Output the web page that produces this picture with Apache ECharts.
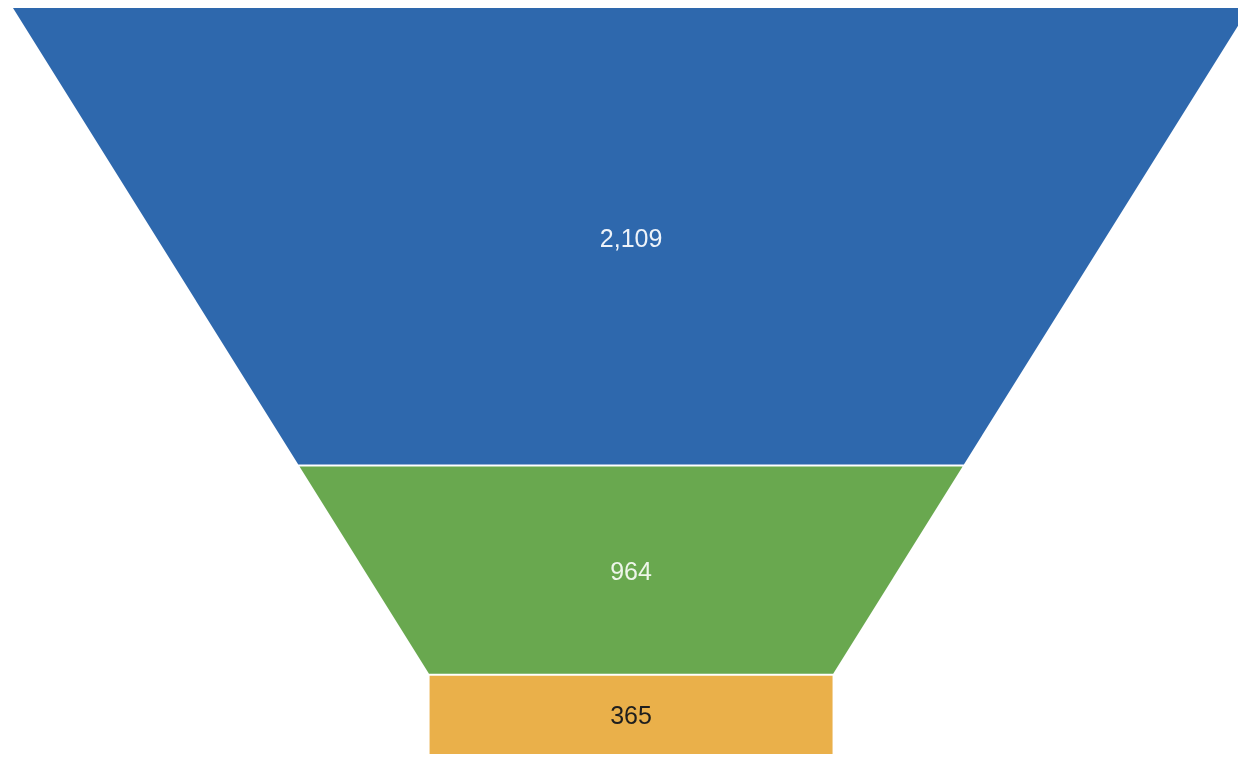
<!DOCTYPE html>
<html>
<head>
<meta charset="utf-8">
<script src="https://cdn.jsdelivr.net/npm/echarts@6/dist/echarts.min.js"></script>
<style>
  html, body { margin: 0; padding: 0; background: #ffffff; }
  #chart { width: 1238px; height: 757px; }
</style>
</head>
<body>
<div id="chart"></div>
<script>
// Data
const categories = ['Stage 1', 'Stage 2', 'Stage 3'];
const values = [2109, 964, 365];
const colors = ['#2e68ad', '#69a84f', '#eab04a'];
const labelColors = ['#eef3f9', '#eef6ea', '#1e1e1e'];

const total = values.reduce((a, b) => a + b, 0);
const neckStart = total - values[values.length - 1];
const bottomRatio = 0.326;
function halfWidth(v) {
  if (v >= neckStart) return bottomRatio;
  return 1 - (1 - bottomRatio) * v / neckStart;
}
const cum = [];
values.reduce((acc, v, i) => { cum[i] = acc; return acc + v; }, 0);

const chart = echarts.init(document.getElementById('chart'));
chart.setOption({
  backgroundColor: '#ffffff',
  animation: false,
  grid: { left: 13, right: 0, top: 8, bottom: 3 },
  xAxis: { type: 'value', min: -1, max: 0.982, show: false },
  yAxis: { type: 'value', inverse: true, min: 0, max: total, show: false },
  series: [{
    type: 'custom',
    clip: false,
    data: values.map((v, i) => [i, v]),
    renderItem: function (params, api) {
      const i = params.dataIndex;
      const last = i === values.length - 1;
      const v0 = cum[i];
      const v1 = v0 + values[i];
      const r0 = last ? bottomRatio : halfWidth(v0);
      const r1 = last ? bottomRatio : halfWidth(v1);
      const p1 = api.coord([-r0, v0]);
      const p2 = api.coord([r0, v0]);
      const p3 = api.coord([r1, v1]);
      const p4 = api.coord([-r1, v1]);
      const dt = i === 0 ? 0 : 1;
      const db = last ? 0 : 1;
      function lerp(a, b, t) { return a + (b - a) * t; }
      const h = p4[1] - p1[1];
      const t0 = dt / h, t1 = 1 - db / h;
      const pts = [
        [lerp(p1[0], p4[0], t0), p1[1] + dt],
        [lerp(p2[0], p3[0], t0), p2[1] + dt],
        [lerp(p2[0], p3[0], t1), p3[1] - db],
        [lerp(p1[0], p4[0], t1), p4[1] - db]
      ];
      const cx = (p1[0] + p2[0]) / 2;
      const cy = (p1[1] + p4[1]) / 2;
      return {
        type: 'group',
        children: [
          { type: 'polygon', shape: { points: pts }, style: { fill: colors[i] } },
          {
            type: 'text',
            style: {
              text: values[i].toLocaleString('en-US'),
              x: cx, y: cy + 3,
              align: 'center', verticalAlign: 'middle',
              fill: labelColors[i],
              fontSize: 25,
              fontFamily: 'Liberation Sans, Arial, sans-serif'
            }
          }
        ]
      };
    }
  }]
});
</script>
</body>
</html>
